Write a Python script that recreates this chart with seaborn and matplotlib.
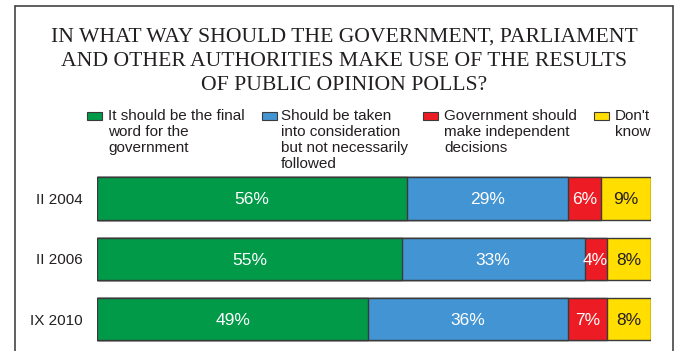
import matplotlib
matplotlib.use("Agg")
import matplotlib.pyplot as plt
from matplotlib.patches import Rectangle
from matplotlib.lines import Line2D
import numpy as np
import pandas as pd
import seaborn as sns

# Survey waves and answer shares (%)
waves = ["II 2004", "II 2006", "IX 2010"]
final_word = [56, 55, 49]
consideration = [29, 33, 36]
independent = [6, 4, 7]
dont_know = [9, 8, 8]

answers = [
    ["It should be the final", "word for the", "government"],
    ["Should be taken", "into consideration", "but not necessarily", "followed"],
    ["Government should", "make independent", "decisions"],
    ["Don't", "know"],
]
colors = ["#009A49", "#4394D2", "#ED1C24", "#FFDE00"]
label_colors = ["white", "white", "white", "#231F20"]

title_lines = ["IN WHAT WAY SHOULD THE GOVERNMENT, PARLIAMENT",
               "AND OTHER AUTHORITIES MAKE USE OF THE RESULTS",
               "OF PUBLIC OPINION POLLS?"]

sns.set_theme(style="white")
plt.rcParams["font.family"] = ["Liberation Sans", "DejaVu Sans"]

W, H, DPI = 677, 351, 100
fig = plt.figure(figsize=(W / DPI, H / DPI), dpi=DPI)
fig.patch.set_facecolor("white")

def fx(px):
    return px / W

def fy(py):
    return 1 - py / H

ax = fig.add_axes([fx(97), fy(349.25), fx(651) - fx(97), fy(168.25) - fy(349.25)])

series = [final_word, consideration, independent, dont_know]
df = pd.DataFrame({"wave": waves})
cum = np.zeros(len(waves))
cums = []
for s in series:
    cum = cum + np.array(s)
    cums.append(cum.copy())

# Stacked bars: draw running totals from the outermost segment inward
for k in range(len(series) - 1, -1, -1):
    df["total"] = cums[k]
    sns.barplot(data=df, x="total", y="wave", orient="h", color=colors[k],
                saturation=1, width=0.7, edgecolor="#3a3a3a", linewidth=1.0,
                ax=ax)

# Value labels centred in each segment
for k, s in enumerate(series):
    starts = cums[k] - np.array(s)
    for i, v in enumerate(s):
        ax.text(starts[i] + v / 2, i, f"{v}%", ha="center", va="center_baseline",
                fontsize=12.5, color=label_colors[k])

ax.set_xlim(0, 100)
ax.set_ylim(2.5, -0.5)
ax.set_xlabel("")
ax.set_ylabel("")
ax.set_xticks([])
ax.tick_params(axis="y", length=0, pad=10, labelsize=11, labelcolor="#231F20")
for sp in ax.spines.values():
    sp.set_visible(False)
ax.patch.set_alpha(0)

# Title, one line per baseline
for line, base in zip(title_lines, [41.7, 66.2, 89.5]):
    fig.text(fx(344), fy(base), line, ha="center", va="baseline",
             family=["Liberation Serif", "DejaVu Serif"], fontsize=15.6,
             color="#231F20")

# Legend
sq_x = [87, 262, 423, 594]
tx_x = [108, 281, 444, 615]
for c, sx, tx, lab in zip(colors, sq_x, tx_x, answers):
    fig.patches.append(Rectangle((fx(sx), fy(120)), fx(15), fy(112) - fy(120),
                                 transform=fig.transFigure, facecolor=c,
                                 edgecolor="#3a3a3a", linewidth=0.8))
    for j, part in enumerate(lab):
        fig.text(fx(tx), fy(119.5 + 16.3 * j), part, ha="left", va="baseline",
                 fontsize=11, color="#231F20")

# Frame around the chart
frame = dict(color="#444444", linewidth=1.2, transform=fig.transFigure)
fig.lines.append(Line2D([fx(15.5), fx(15.5)], [fy(5.5), 0], **frame))
fig.lines.append(Line2D([fx(15.5), fx(672.5)], [fy(5.5), fy(5.5)], **frame))
fig.lines.append(Line2D([fx(672.5), fx(672.5)], [fy(5.5), 0], **frame))

fig.savefig("out.png", dpi=DPI)
